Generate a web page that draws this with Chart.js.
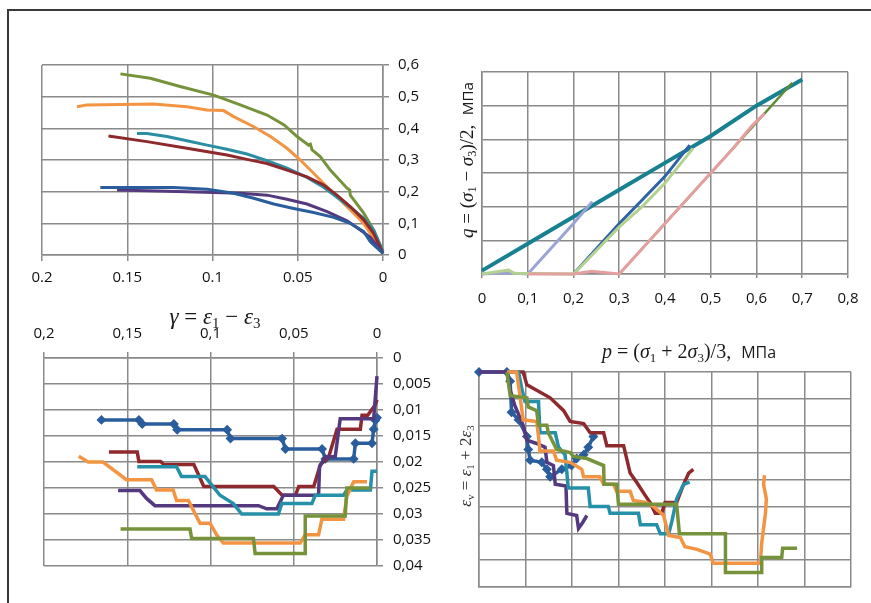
<!DOCTYPE html>
<html>
<head>
<meta charset="utf-8">
<script src="https://cdn.jsdelivr.net/npm/chart.js@4.4.1/dist/chart.umd.min.js"></script>
<style>
  body { margin: 0; background: #fff; width: 871px; height: 603px; overflow: hidden; position: relative; }
  canvas { position: absolute; }
  .frame { position: absolute; left: 7px; top: 9px; width: 880px; height: 700px; border-left: 2px solid #3a3a3a; border-top: 2px solid #3a3a3a; }
  .lbl { position: absolute; white-space: nowrap; color: #1a1a1a; font-family: 'Liberation Serif', serif; }
  .lbl i { font-style: italic; }
  .lbl sub { font-size: 0.65em; vertical-align: -0.3em; font-style: normal; }
  .lbl .u { font-family: 'Open Sans', sans-serif; font-style: normal; font-size: 0.8em; }
</style>
</head>
<body>
<div class="frame"></div>
<canvas id="tl" width="440" height="300" style="left:0;top:0"></canvas>
<canvas id="tr" width="441" height="320" style="left:430px;top:0"></canvas>
<canvas id="bl" width="440" height="313" style="left:0;top:290px"></canvas>
<canvas id="br" width="441" height="283" style="left:430px;top:320px"></canvas>

<div class="lbl" id="gTitle" style="left:215px;top:318px;font-size:23px;transform:translate(-50%,-50%)"><i>γ</i> = <i>ε</i><sub>1</sub> − <i>ε</i><sub>3</sub></div>
<div class="lbl" id="qTitle" style="left:468px;top:160px;font-size:19px;transform:translate(-50%,-50%) rotate(-90deg)"><i>q</i> = (<i>σ</i><sub>1</sub> − <i>σ</i><sub>3</sub>)/2,&nbsp; <span class="u">МПа</span></div>
<div class="lbl" id="pTitle" style="left:689px;top:353px;font-size:20px;transform:translate(-50%,-50%)"><i>p</i> = (<i>σ</i><sub>1</sub> + 2<i>σ</i><sub>3</sub>)/3,&nbsp; <span class="u">МПа</span></div>
<div class="lbl" id="eTitle" style="left:466px;top:466px;font-size:17px;color:#333;transform:translate(-50%,-50%) rotate(-90deg)"><i>ε</i><sub>v</sub> = <i>ε</i><sub>1</sub> + 2<i>ε</i><sub>3</sub></div>

<script>
// ---- tick labels (ordered by value, from 0 up) ----
const tlXLabels = ['0', '0.05', '0.1', '0.15', '0.2'];
const tlYLabels = ['0', '0,1', '0,2', '0,3', '0,4', '0,5', '0,6'];
const trXLabels = ['0', '0,1', '0,2', '0,3', '0,4', '0,5', '0,6', '0,7', '0,8'];
const blXLabels = ['0', '0,05', '0,1', '0,15', '0,2'];
const blYLabels = ['0', '0,005', '0,01', '0,015', '0,02', '0,025', '0,03', '0,035', '0,04'];

// ---- top left: q vs gamma ----
const tlGreen = [[0.154,0.572],[0.1365,0.558],[0.119,0.532],[0.0993,0.505],[0.0837,0.474],[0.068,0.442],[0.058,0.411],[0.0504,0.374],[0.0436,0.347],[0.0426,0.350],[0.0416,0.332],[0.0368,0.311],[0.0309,0.268],[0.0211,0.211],[0.0195,0.205],[0.0192,0.189],[0.0113,0.132],[0.0055,0.079],[0,0.011]];
const tlOrange = [[0.1795,0.468],[0.1736,0.474],[0.1345,0.477],[0.115,0.468],[0.1032,0.458],[0.0935,0.456],[0.0876,0.437],[0.0758,0.405],[0.066,0.374],[0.0563,0.337],[0.0485,0.300],[0.0407,0.258],[0.0348,0.226],[0.0289,0.195],[0.0231,0.163],[0.0172,0.132],[0.0113,0.100],[0.0074,0.068],[0,0.011]];
const tlMaroon = [[0.161,0.376],[0.1384,0.358],[0.115,0.337],[0.0915,0.316],[0.0798,0.302],[0.068,0.289],[0.0563,0.268],[0.0446,0.247],[0.0348,0.221],[0.027,0.189],[0.0192,0.153],[0.0113,0.111],[0.0055,0.068],[0,0.005]];
const tlTeal = [[0.1443,0.384],[0.1384,0.384],[0.1267,0.374],[0.115,0.361],[0.1032,0.347],[0.0915,0.334],[0.0798,0.319],[0.068,0.298],[0.0563,0.274],[0.0446,0.245],[0.0348,0.214],[0.027,0.182],[0.0192,0.151],[0.0113,0.116],[0.0055,0.079],[0,0.011]];
const tlBlue = [[0.1658,0.213],[0.1228,0.213],[0.1032,0.208],[0.0876,0.195],[0.0758,0.179],[0.0641,0.161],[0.0524,0.147],[0.0407,0.134],[0.0289,0.119],[0.0192,0.100],[0.0113,0.074],[0.0074,0.042],[0,0.005]];
const tlPurple = [[0.156,0.205],[0.115,0.200],[0.0837,0.195],[0.068,0.189],[0.0563,0.176],[0.0446,0.161],[0.0328,0.137],[0.0211,0.108],[0.0133,0.079],[0.0074,0.056],[0,0.005]];

// ---- top right: q vs p ----
const trEnvelope = [[0,0.01],[0.1,0.09],[0.2,0.17],[0.3,0.25],[0.4,0.33],[0.5,0.41],[0.6,0.50],[0.7,0.578]];
const trLavender = [[0,0],[0.05,0.004],[0.1,0],[0.15,0.075],[0.2,0.15],[0.241,0.215]];
const trLightGreen = [[0,0],[0.058,0.012],[0.07,0.002],[0.2,0],[0.25,0.07],[0.3,0.14],[0.35,0.2],[0.4,0.27],[0.461,0.373]];
const trBlue = [[0.2,0],[0.25,0.075],[0.3,0.15],[0.35,0.22],[0.4,0.29],[0.454,0.383]];
const trPink = [[0.1,0],[0.2,0],[0.24,0.008],[0.3,0],[0.35,0.075],[0.4,0.15],[0.45,0.225],[0.5,0.3],[0.55,0.375],[0.59,0.44],[0.618,0.477]];
const trDarkGreen = [[0.3,0],[0.4,0.15],[0.5,0.3],[0.6,0.45],[0.678,0.568]];

// ---- bottom left: eps_v vs gamma ----
const blBlue = [[0.1655,0.0119],[0.143,0.0119],[0.141,0.0127],[0.122,0.0127],[0.120,0.0138],[0.090,0.0138],[0.088,0.0155],[0.057,0.0155],[0.055,0.0175],[0.033,0.0175],[0.031,0.0194],[0.014,0.0194],[0.013,0.0164],[0.003,0.0164],[0.002,0.0137],[0.001,0.012],[0,0.0115]];
const blMaroon = [[0.161,0.0181],[0.144,0.0181],[0.143,0.0199],[0.130,0.0199],[0.128,0.0205],[0.110,0.0205],[0.104,0.0247],[0.062,0.0247],[0.057,0.0264],[0.049,0.0264],[0.047,0.0247],[0.038,0.0247],[0.034,0.0205],[0.029,0.0190],[0.024,0.0137],[0.010,0.0137],[0.009,0.011],[0.0056,0.011],[0.001,0.009],[0,0.008]];
const blPurple = [[0.1555,0.0255],[0.1424,0.0255],[0.1384,0.027],[0.1334,0.0284],[0.0712,0.0284],[0.0662,0.029],[0.0602,0.029],[0.0562,0.0264],[0.0351,0.0264],[0.0345,0.0209],[0.0311,0.019],[0.0251,0.019],[0.0221,0.0117],[0.002,0.0117],[0,0.0035]];
const blTeal = [[0.144,0.0209],[0.1204,0.0209],[0.1174,0.0228],[0.1033,0.0228],[0.0943,0.0264],[0.0863,0.028],[0.0812,0.030],[0.0592,0.030],[0.0572,0.028],[0.0391,0.028],[0.0371,0.0264],[0.0201,0.0264],[0.0181,0.0254],[0.004,0.0254],[0.003,0.0218],[0,0.0218]];
const blOrange = [[0.1791,0.0189],[0.1735,0.020],[0.1645,0.020],[0.1605,0.021],[0.1505,0.0234],[0.1354,0.0234],[0.1324,0.0254],[0.1224,0.0254],[0.1204,0.0274],[0.1133,0.0274],[0.1063,0.0318],[0.1003,0.0318],[0.0963,0.034],[0.0923,0.0356],[0.0461,0.0356],[0.0431,0.034],[0.0351,0.034],[0.0331,0.031],[0.0201,0.031],[0.0181,0.0266],[0.014,0.0238],[0.006,0.0238]];
const blGreen = [[0.154,0.0329],[0.1123,0.0329],[0.1113,0.0347],[0.0742,0.0347],[0.0732,0.0376],[0.0431,0.0376],[0.0431,0.0304],[0.0191,0.0304],[0.0181,0.025],[0.004,0.025]];

// ---- bottom right: eps_v vs p ----
const brBlue = [[0,0],[0.06,0],[0.067,0.0017],[0.070,0.0075],[0.085,0.0089],[0.103,0.012],[0.106,0.0144],[0.110,0.0164],[0.135,0.0168],[0.146,0.0181],[0.153,0.0195],[0.178,0.0181],[0.199,0.0174],[0.210,0.0161],[0.225,0.0154],[0.235,0.014],[0.246,0.012]];
const brPurple = [[0,0],[0.06,0],[0.067,0.0034],[0.077,0.0062],[0.095,0.0099],[0.103,0.0127],[0.124,0.0133],[0.142,0.014],[0.146,0.0168],[0.160,0.0174],[0.164,0.0209],[0.187,0.0212],[0.189,0.0263],[0.210,0.0267],[0.214,0.0291],[0.223,0.028],[0.232,0.0267]];
const brMaroon = [[0.06,0],[0.095,0],[0.103,0.0024],[0.124,0.0034],[0.153,0.0048],[0.182,0.0072],[0.196,0.0092],[0.225,0.0096],[0.239,0.0113],[0.268,0.0113],[0.275,0.0137],[0.311,0.0137],[0.325,0.0188],[0.339,0.0205],[0.357,0.0229],[0.368,0.0243],[0.379,0.0263],[0.393,0.0263],[0.400,0.0243],[0.425,0.0243],[0.440,0.0209],[0.451,0.0188],[0.461,0.0181]];
const brTeal = [[0.06,0],[0.085,0],[0.092,0.0031],[0.099,0.0055],[0.128,0.0055],[0.131,0.0113],[0.164,0.0113],[0.171,0.014],[0.185,0.0154],[0.189,0.0188],[0.192,0.0216],[0.235,0.0216],[0.239,0.025],[0.278,0.025],[0.282,0.0263],[0.343,0.0263],[0.347,0.0284],[0.382,0.0284],[0.390,0.0301],[0.408,0.0301],[0.415,0.0277],[0.425,0.0236],[0.440,0.0209],[0.453,0.0205]];
const brOrange = [[0.06,0],[0.081,0],[0.088,0.0044],[0.095,0.0089],[0.124,0.0092],[0.128,0.012],[0.131,0.0147],[0.160,0.0147],[0.167,0.0164],[0.196,0.0168],[0.221,0.0181],[0.225,0.0195],[0.260,0.0195],[0.268,0.0209],[0.289,0.0209],[0.296,0.0222],[0.325,0.0222],[0.332,0.0239],[0.361,0.0243],[0.375,0.025],[0.397,0.0267],[0.408,0.0304],[0.433,0.0308],[0.443,0.0325],[0.469,0.033],[0.497,0.0339],[0.504,0.0356],[0.605,0.0356],[0.608,0.0318],[0.616,0.0263],[0.618,0.0236],[0.612,0.0209],[0.614,0.0192]];
const brGreen = [[0.06,0],[0.067,0.0044],[0.103,0.0048],[0.106,0.0065],[0.124,0.0072],[0.128,0.0099],[0.146,0.0099],[0.149,0.0113],[0.167,0.0144],[0.196,0.015],[0.203,0.0157],[0.232,0.0161],[0.268,0.0174],[0.269,0.0209],[0.296,0.0209],[0.300,0.0246],[0.425,0.0246],[0.431,0.0301],[0.530,0.0301],[0.530,0.0373],[0.608,0.0373],[0.608,0.0345],[0.651,0.0345],[0.653,0.0328],[0.684,0.0328]];

// ---- styling ----
const gridColor = '#8a8a8a';
const tickFont = { family: "'Open Sans', sans-serif", size: 15 };
const tickColor = '#111';

const pts = a => a.map(p => ({ x: p[0], y: p[1] }));
// pick the label for a tick by its value, so reversed axes stay right
const byValue = (labels, step) => v => labels[Math.round(v / step)];

function ds(data, color, width, extra) {
    return Object.assign({
        data: pts(data),
        borderColor: color,
        backgroundColor: color,
        borderWidth: width,
        pointRadius: 0,
        tension: 0,
        clip: false
    }, extra || {});
}

function grid(tick) {
    return { color: gridColor, lineWidth: 1.5, drawTicks: tick > 0, tickLength: tick, tickColor: gridColor };
}

function makeChart(id, datasets, scales, padding) {
    new Chart(document.getElementById(id), {
        type: 'line',
        data: { datasets: datasets },
        options: {
            responsive: false,
            animation: false,
            layout: { padding: padding },
            plugins: { legend: { display: false }, tooltip: { enabled: false } },
            scales: scales
        }
    });
}

// top left
makeChart('tl', [
    ds(tlBlue, '#2a5d9c', 3),
    ds(tlPurple, '#55397f', 3),
    ds(tlMaroon, '#8e2a2e', 3),
    ds(tlTeal, '#2b8ea3', 3),
    ds(tlOrange, '#f39443', 3),
    ds(tlGreen, '#76933c', 3)
], {
    x: {
        type: 'linear', min: 0, max: 0.2, reverse: true,
        grid: grid(6), border: { color: gridColor, width: 1.5 },
        ticks: { stepSize: 0.05, padding: 8, font: tickFont, color: tickColor, maxRotation: 0,
                 callback: byValue(tlXLabels, 0.05) },
        afterFit: s => { s.height = 45; }
    },
    y: {
        type: 'linear', position: 'right', min: 0, max: 0.6,
        grid: grid(6), border: { color: gridColor, width: 1.5 },
        ticks: { stepSize: 0.1, padding: 9, font: tickFont, color: tickColor,
                 callback: byValue(tlYLabels, 0.1) },
        afterFit: s => { s.width = 57; }
    }
}, { left: 42, top: 65, right: 0, bottom: 0 });

// top right
makeChart('tr', [
    ds(trPink, '#e4a0a0', 3),
    ds(trDarkGreen, '#5e8c35', 2.5),
    ds(trLightGreen, '#b3d18f', 3),
    ds(trBlue, '#2f63a8', 3),
    ds(trLavender, '#9aa3d4', 3),
    ds(trEnvelope, '#17818f', 4)
], {
    x: {
        type: 'linear', min: 0, max: 0.8,
        grid: grid(4), border: { color: gridColor, width: 1.5 },
        ticks: { stepSize: 0.1, padding: 12, font: tickFont, color: tickColor, maxRotation: 0,
                 callback: byValue(trXLabels, 0.1) },
        afterFit: s => { s.height = 46; }
    },
    y: {
        type: 'linear', min: 0, max: 0.6,
        grid: grid(0), border: { color: gridColor, width: 1.5 },
        ticks: { stepSize: 0.1, display: false },
        afterFit: s => { s.width = 0; }
    }
}, { left: 52, top: 72, right: 23, bottom: 0 });

// bottom left
makeChart('bl', [
    ds(blGreen, '#76933c', 3.5),
    ds(blOrange, '#f39443', 3.5),
    ds(blTeal, '#2590a8', 3.5),
    ds(blPurple, '#55397f', 3.5),
    ds(blMaroon, '#8e2a2e', 3.5),
    ds(blBlue, '#2a5d9c', 3.5, { pointRadius: 2.5, pointStyle: 'rectRot' })
], {
    x: {
        type: 'linear', position: 'top', min: 0, max: 0.2, reverse: true,
        grid: grid(6), border: { color: gridColor, width: 1.5 },
        ticks: { stepSize: 0.05, padding: 9, font: tickFont, color: tickColor, maxRotation: 0,
                 callback: byValue(blXLabels, 0.05) },
        afterFit: s => { s.height = 68; }
    },
    y: {
        type: 'linear', position: 'right', min: 0, max: 0.04, reverse: true,
        grid: grid(6), border: { color: gridColor, width: 1.5 },
        ticks: { stepSize: 0.005, padding: 10, font: tickFont, color: tickColor,
                 callback: byValue(blYLabels, 0.005) },
        afterFit: s => { s.width = 63; }
    }
}, { left: 44, top: 0, right: 0, bottom: 37 });

// bottom right
makeChart('br', [
    ds(brGreen, '#76933c', 3.5),
    ds(brOrange, '#f39443', 3.5),
    ds(brTeal, '#2590a8', 3.5),
    ds(brMaroon, '#8e2a2e', 3.5),
    ds(brPurple, '#55397f', 3.5),
    ds(brBlue, '#2a5d9c', 3.5, { pointRadius: 2.5, pointStyle: 'rectRot' })
], {
    x: {
        type: 'linear', min: 0, max: 0.8,
        grid: grid(0), border: { color: gridColor, width: 1.5 },
        ticks: { stepSize: 0.1, display: false },
        afterFit: s => { s.height = 0; }
    },
    y: {
        type: 'linear', min: 0, max: 0.04, reverse: true,
        grid: grid(0), border: { color: gridColor, width: 1.5 },
        ticks: { stepSize: 0.005, display: false },
        afterFit: s => { s.width = 0; }
    }
}, { left: 49, top: 52, right: 20, bottom: 16 });
</script>
</body>
</html>
